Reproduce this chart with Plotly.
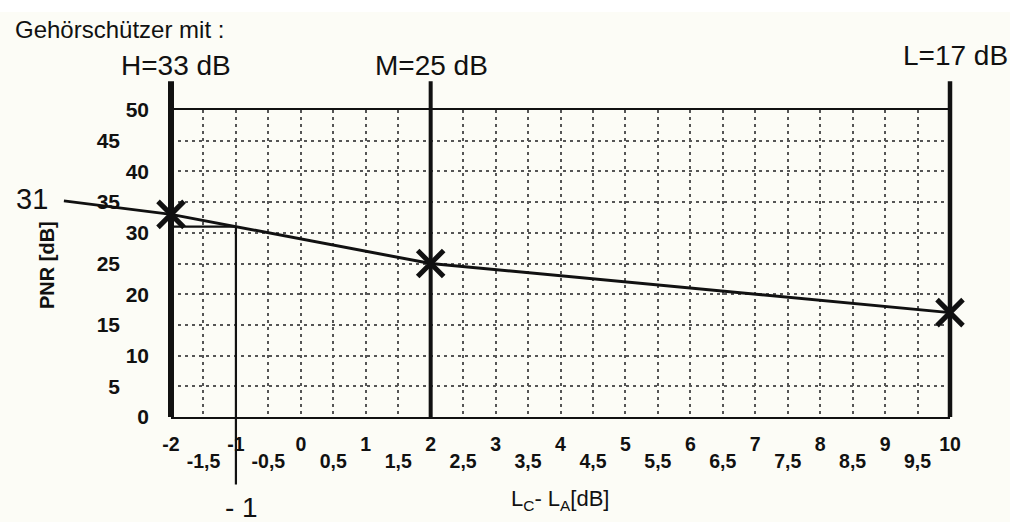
import plotly.graph_objects as go

# ---------------- data ----------------
lc_la = [-2, 2, 10]                 # L_C - L_A [dB] of the H / M / L points
pnr = [33, 25, 17]                  # PNR [dB]
class_labels = ["H=33 dB", "M=25 dB", "L=17 dB"]

lead_x = [-3.65, -2]                # pointer line from the "31" label
lead_y = [35.2, 33]

read_x = -1                         # reading example
read_pnr = 31
read_bottom = -11
line_top = 54.7                     # top of the H/M/L bars

x_major = [-2, -1, 0, 1, 2, 3, 4, 5, 6, 7, 8, 9, 10]
x_major_text = ["-2", "-1", "0", "1", "2", "3", "4", "5", "6", "7", "8", "9", "10"]
x_half = [-1.5, -0.5, 0.5, 1.5, 2.5, 3.5, 4.5, 5.5, 6.5, 7.5, 8.5, 9.5]
x_half_text = ["-1,5", "-0,5", "0,5", "1,5", "2,5", "3,5", "4,5", "5,5", "6,5", "7,5", "8,5", "9,5"]
y_major = [0, 10, 20, 30, 40, 50]
y_odd = [5, 15, 25, 35, 45]
x_grid = [-1.5, -1, -0.5, 0, 0.5, 1, 1.5, 2.5, 3, 3.5, 4, 4.5, 5, 5.5, 6, 6.5,
          7, 7.5, 8, 8.5, 9, 9.5]
y_grid = [5, 10, 15, 20, 25, 30, 35, 40, 45]

# ---------------- geometry (window pixels) ----------------
W, H = 1010, 522
XL_PX, XR_PX = 171, 950      # pixel of x=-2 and x=10
YB_PX, YT_PX = 417, 110      # pixel of y=0 and y=50
XMIN, XMAX, YMIN, YMAX = -2, 10, 0, 50
sx = (XR_PX - XL_PX) / (XMAX - XMIN)
sy = (YB_PX - YT_PX) / (YMAX - YMIN)

def px(x):
    return x / W

def py(y):
    return (H - y) / H

FONT = "Liberation Sans, Arial, sans-serif"
INK = "#111111"
BG = "#fcfcf6"
GRID = "#555555"

fig = go.Figure()

# base + overlay axes of the grid subplot
fig.add_trace(go.Scatter(x=x_major, y=[None] * len(x_major), xaxis="x", yaxis="y",
                         mode="markers", showlegend=False, hoverinfo="skip"))
fig.add_trace(go.Scatter(x=x_half, y=[None] * len(x_half), xaxis="x3", yaxis="y3",
                         mode="markers", showlegend=False, hoverinfo="skip"))

# thick H / M / L bars
for xv, w in zip(lc_la, [6, 4, 4.5]):
    fig.add_trace(go.Scatter(x=[xv, xv], y=[0, line_top], mode="lines",
                             line=dict(color=INK, width=w), xaxis="x2", yaxis="y2",
                             hoverinfo="skip", showlegend=False))

# reading guides
fig.add_trace(go.Scatter(x=[lc_la[0], read_x, read_x], y=[read_pnr, read_pnr, read_bottom],
                         mode="lines", line=dict(color=INK, width=2.2),
                         xaxis="x2", yaxis="y2", showlegend=False))
# pointer from label
fig.add_trace(go.Scatter(x=lead_x, y=lead_y, mode="lines",
                         line=dict(color=INK, width=2.6), xaxis="x2", yaxis="y2",
                         showlegend=False))
# PNR curve
fig.add_trace(go.Scatter(x=lc_la, y=pnr, mode="lines+markers",
                         line=dict(color=INK, width=3), cliponaxis=False,
                         marker=dict(symbol="x-thin", size=26, color=INK,
                                     line=dict(color=INK, width=5)),
                         xaxis="x2", yaxis="y2", showlegend=False))

tickfont_x = dict(family=FONT, size=19.5, color=INK, weight=700)
tickfont_y = dict(family=FONT, size=21, color=INK, weight=700)
dom_x = [px(XL_PX), px(XR_PX)]
dom_y = [py(YB_PX), py(YT_PX)]
minor_common = dict(showgrid=True, griddash="3px,4px", gridcolor=GRID, gridwidth=1.6, ticks="")

fig.update_layout(
    template="none",
    width=W, height=H, margin=dict(l=0, r=0, t=0, b=0, pad=0, autoexpand=False),
    paper_bgcolor=BG, plot_bgcolor="rgba(0,0,0,0)", showlegend=False,
    xaxis=dict(domain=dom_x, range=[XMIN, XMAX], anchor="y", tickmode="array",
               tickvals=x_major, ticktext=x_major_text, tickfont=tickfont_x,
               ticks="", showgrid=False, zeroline=False, showline=True, mirror=True,
               linecolor=INK, linewidth=2.2, ticklabelstandoff=8, automargin=False,
               minor=dict(tickmode="array", tickvals=x_grid, **minor_common)),
    xaxis3=dict(overlaying="x", anchor="y", side="bottom", range=[XMIN, XMAX],
                tickmode="array", tickvals=x_half, ticktext=x_half_text,
                tickfont=tickfont_x, ticks="", showgrid=False, zeroline=False,
                showline=False, ticklabelstandoff=30, automargin=False),
    yaxis=dict(domain=dom_y, range=[YMIN, YMAX], anchor="x", tickmode="array",
               tickvals=y_major, tickfont=tickfont_y, ticks="", showgrid=False,
               zeroline=False, showline=False, ticklabelstandoff=21, automargin=False,
               minor=dict(tickmode="array", tickvals=y_grid, **minor_common)),
    yaxis3=dict(overlaying="y", anchor="x", side="left", range=[YMIN, YMAX],
                tickmode="array", tickvals=y_odd, tickfont=tickfont_y, ticks="",
                showgrid=False, zeroline=False, showline=False, ticklabelstandoff=50,
                automargin=False),
    xaxis2=dict(domain=[0, 1], anchor="y2", visible=False, automargin=False,
                range=[XMIN - XL_PX / sx, XMIN + (W - XL_PX) / sx]),
    yaxis2=dict(domain=[0, 1], anchor="x2", visible=False, automargin=False,
                range=[-(H - YB_PX) / sy, YB_PX / sy]),
)

# white strip at top of the scan
fig.add_shape(type="rect", xref="paper", yref="paper", x0=0, x1=1, y0=py(12), y1=1,
              fillcolor="white", line=dict(width=0), layer="below")

def ann(text, x, y, size, xanchor="center", bold=False, angle=0):
    fig.add_annotation(text=text, xref="paper", yref="paper", x=px(x), y=py(y),
                       xanchor=xanchor, yanchor="middle", showarrow=False,
                       textangle=angle,
                       font=dict(family=FONT, size=size, color=INK,
                                 weight=700 if bold else 400))

ann("Gehörschützer mit :", 13, 29, 24, xanchor="left")
for lab, cx, cy in zip(class_labels, [176, 431, 955], [65, 65, 55]):
    ann(lab, cx, cy, 28)
ann("31", 32, 199, 29)
ann("- 1", 241, 507, 28)
ann("PNR [dB]", 47, 265, 20, bold=True, angle=-90)
ann("L<sub>C</sub>- L<sub>A</sub>[dB]", 560, 500, 22)

fig.write_html("out.html", config={"displayModeBar": False},
               post_script="document.body.style.margin='0';document.body.style.overflow='hidden';")
